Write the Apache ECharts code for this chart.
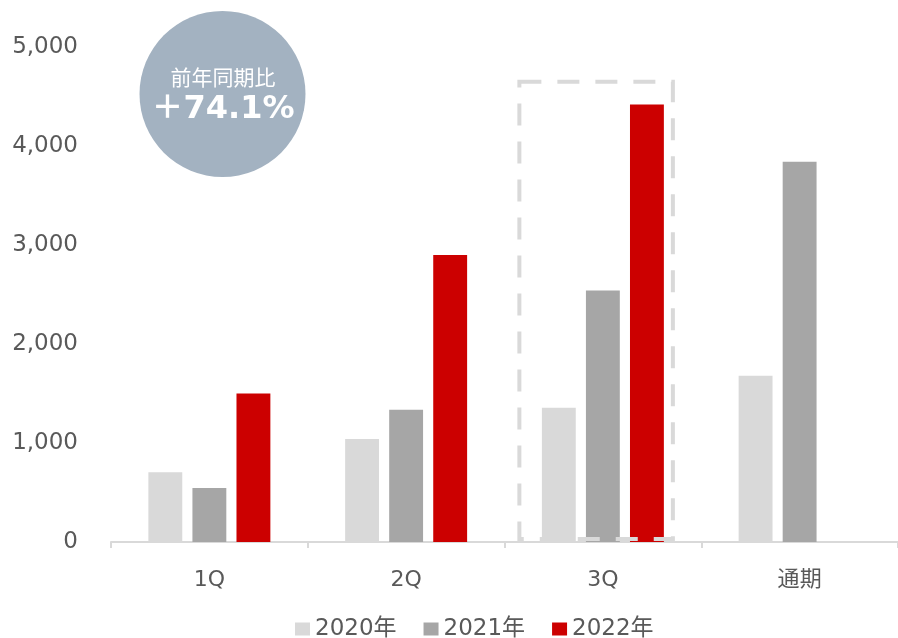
<!DOCTYPE html>
<html>
<head>
<meta charset="utf-8">
<script src="https://cdn.jsdelivr.net/npm/echarts@6/dist/echarts.min.js"></script>
<style>
html,body{margin:0;padding:0;background:#fff;}
#c{width:898px;height:638px;}
</style>
</head>
<body>
<div id="c"></div>
<script>
const categories = ['1Q', '2Q', '3Q', '通期'];
const seriesNames = ['2020年', '2021年', '2022年'];
const values2020 = [705, 1040, 1355, 1680];
const values2021 = [545, 1335, 2540, 3840];
const values2022 = [1500, 2900, 4420, null];
const yTicks = [0, 1000, 2000, 3000, 4000, 5000];
const badgeTitle = '前年同期比';
const badgeValue = '＋74.1%';
const highlightCategory = '3Q';
const highlightTop = 4650;
const highlightBottom = 30;

const colors = ['#d9d9d9', '#a6a6a6', '#cc0000'];
const FONT = '"DejaVu Sans", "Noto Sans CJK JP", sans-serif';

const chart = echarts.init(document.getElementById('c'));
const mk = (name, data, color) => ({
  name, type: 'bar', data, barGap: '30%', barCategoryGap: '38%',
  itemStyle: { color }, emphasis: { disabled: true }
});
chart.setOption({
  animation: false,
  textStyle: { fontFamily: FONT },
  grid: { left: 111, right: 0, top: 47, bottom: 96 },
  legend: {
    top: 616, left: 295, padding: 0, itemWidth: 15, itemHeight: 13, itemGap: 27,
    icon: 'rect',
    textStyle: { fontSize: 23, color: '#595959', fontFamily: FONT, lineHeight: 26 },
    data: seriesNames
  },
  xAxis: {
    type: 'category', data: categories,
    axisLine: { lineStyle: { color: '#d9d9d9', width: 2 } },
    axisTick: { show: true, length: 6, lineStyle: { color: '#d9d9d9', width: 2 } },
    axisLabel: { fontSize: 22, color: '#595959', margin: 27, fontFamily: FONT }
  },
  yAxis: {
    type: 'value', min: yTicks[0], max: yTicks[yTicks.length - 1], interval: 1000,
    axisLine: { show: false }, axisTick: { show: false }, splitLine: { show: false },
    axisLabel: {
      fontSize: 23, color: '#595959', margin: 33, fontFamily: FONT,
      formatter: v => v.toLocaleString('en-US')
    }
  },
  series: [
    mk(seriesNames[0], values2020, colors[0]),
    mk(seriesNames[1], values2021, colors[1]),
    mk(seriesNames[2], values2022, colors[2])
  ]
});

function drawGraphics() {
  const cx = chart.convertToPixel({ xAxisIndex: 0 }, highlightCategory);
  const yTop = chart.convertToPixel({ yAxisIndex: 0 }, highlightTop);
  const yBot = chart.convertToPixel({ yAxisIndex: 0 }, highlightBottom);
  const left = cx - 83.5, right = cx + 70;
  chart.setOption({
    graphic: [
      {
        type: 'rect', z: 10,
        shape: { x: left, y: yTop, width: right - left, height: yBot - yTop },
        style: { fill: 'none', stroke: '#d9d9d9', lineWidth: 4, lineDash: [22, 16] }
      },
      {
        type: 'circle', z: 10,
        shape: { cx: 222.5, cy: 94, r: 83 },
        style: { fill: '#a3b2c1' }
      },
      {
        type: 'text', z: 11, x: 223, y: 77,
        style: { text: badgeTitle, fill: '#fff', font: '21px "Noto Sans CJK JP", sans-serif', align: 'center', verticalAlign: 'middle' }
      },
      {
        type: 'text', z: 11, x: 223, y: 110,
        style: { text: badgeValue, fill: '#fff', font: 'bold 32px "DejaVu Sans", "Noto Sans CJK JP", sans-serif', align: 'center', verticalAlign: 'middle' }
      }
    ]
  });
}
drawGraphics();
</script>
</body>
</html>
